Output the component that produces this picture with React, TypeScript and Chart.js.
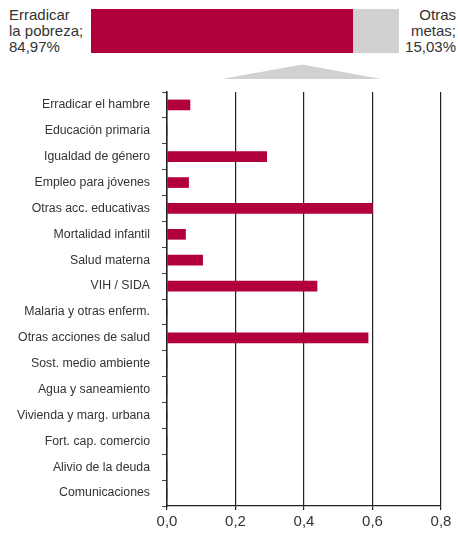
import React, { useEffect, useRef } from "react";
import { Chart, registerables } from "chart.js";

Chart.register(...registerables);

const categories = [
  "Erradicar el hambre",
  "Educación primaria",
  "Igualdad de género",
  "Empleo para jóvenes",
  "Otras acc. educativas",
  "Mortalidad infantil",
  "Salud materna",
  "VIH / SIDA",
  "Malaria y otras enferm.",
  "Otras acciones de salud",
  "Sost. medio ambiente",
  "Agua y saneamiento",
  "Vivienda y marg. urbana",
  "Fort. cap. comercio",
  "Alivio de la deuda",
  "Comunicaciones",
];
const values = [0.067, 0, 0.291, 0.063, 0.6, 0.054, 0.104, 0.438, 0, 0.587, 0, 0, 0, 0, 0, 0];
const xTicks = [0, 0.2, 0.4, 0.6, 0.8];

const shareLabels = ["Erradicar la pobreza", "Otras metas"];
const shareValues = [84.97, 15.03];

const RED = "#b1003a";
const GRAY = "#d1d1d3";
const TEXT = "#333333";
const FONT = "'Liberation Sans', Arial, sans-serif";

function fmt(v: number, d: number) {
  return v.toFixed(d).replace(".", ",");
}

export default function App() {
  const topRef = useRef<HTMLCanvasElement>(null);
  const mainRef = useRef<HTMLCanvasElement>(null);

  useEffect(() => {
    const top = new Chart(topRef.current!, {
      type: "bar",
      data: {
        labels: [""],
        datasets: shareValues.map((v, i) => ({
          label: shareLabels[i],
          data: [v],
          backgroundColor: i === 0 ? RED : GRAY,
          borderWidth: 0,
          barPercentage: 1,
          categoryPercentage: 1,
        })),
      },
      options: {
        indexAxis: "y",
        responsive: false,
        animation: false,
        layout: { padding: 0 },
        plugins: { legend: { display: false }, tooltip: { enabled: false } },
        scales: {
          x: { stacked: true, min: 0, max: 100, display: false },
          y: { stacked: true, display: false },
        },
      },
    });

    const main = new Chart(mainRef.current!, {
      type: "bar",
      data: {
        labels: categories,
        datasets: [
          {
            data: values,
            backgroundColor: RED,
            borderWidth: 0,
            barThickness: 10,
          },
        ],
      },
      options: {
        indexAxis: "y",
        responsive: false,
        animation: false,
        layout: { padding: { top: 7, right: 17, left: 0, bottom: 0 } },
        plugins: { legend: { display: false }, tooltip: { enabled: false } },
        scales: {
          x: {
            min: 0,
            max: 0.8,
            afterFit: (s: any) => {
              s.height = 30;
            },
            afterBuildTicks: (s: any) => {
              s.ticks = xTicks.map((v) => ({ value: v }));
            },
            ticks: {
              color: TEXT,
              font: { family: FONT, size: 15 },
              padding: 3,
              callback: (v: any) => fmt(Number(v), 1),
            },
            grid: {
              color: "#222222",
              lineWidth: 1.2,
              tickLength: 4,
              drawTicks: true,
            },
            border: { color: "#222222", width: 1.2 },
          },
          y: {
            afterFit: (s: any) => {
              s.width = 167;
              s.paddingTop = 0;
              s.paddingBottom = 0;
            },
            ticks: {
              color: TEXT,
              font: { family: FONT, size: 12.3 },
              padding: 12,
              autoSkip: false,
            },
            grid: {
              offset: true,
              drawOnChartArea: false,
              drawTicks: true,
              tickLength: 5,
              color: "#444444",
              lineWidth: 1,
            },
            border: { color: "#222222", width: 1.5 },
          },
        },
      },
    });

    return () => {
      top.destroy();
      main.destroy();
    };
  }, []);

  const labelStyle: React.CSSProperties = {
    position: "absolute",
    fontFamily: FONT,
    fontSize: 15,
    lineHeight: "16px",
    color: TEXT,
  };

  return (
    <div
      style={{
        position: "absolute",
        left: 0,
        top: 0,
        width: 458,
        height: 536,
        background: "#ffffff",
        overflow: "hidden",
      }}
    >
      <div style={{ ...labelStyle, left: 9, top: 7, textAlign: "left" }}>
        Erradicar
        <br />
        la pobreza;
        <br />
        {fmt(shareValues[0], 2)}%
      </div>
      <div style={{ ...labelStyle, right: 2, top: 7, textAlign: "right" }}>
        Otras
        <br />
        metas;
        <br />
        {fmt(shareValues[1], 2)}%
      </div>
      <canvas
        ref={topRef}
        width={308}
        height={44}
        style={{ position: "absolute", left: 91, top: 9, width: 308, height: 44 }}
      />
      <svg
        width={458}
        height={90}
        style={{ position: "absolute", left: 0, top: 0 }}
      >
        <polygon points="222,79 302,64.5 381,79" fill={GRAY} />
      </svg>
      <canvas
        ref={mainRef}
        width={458}
        height={451}
        style={{ position: "absolute", left: 0, top: 85, width: 458, height: 451 }}
      />
    </div>
  );
}
